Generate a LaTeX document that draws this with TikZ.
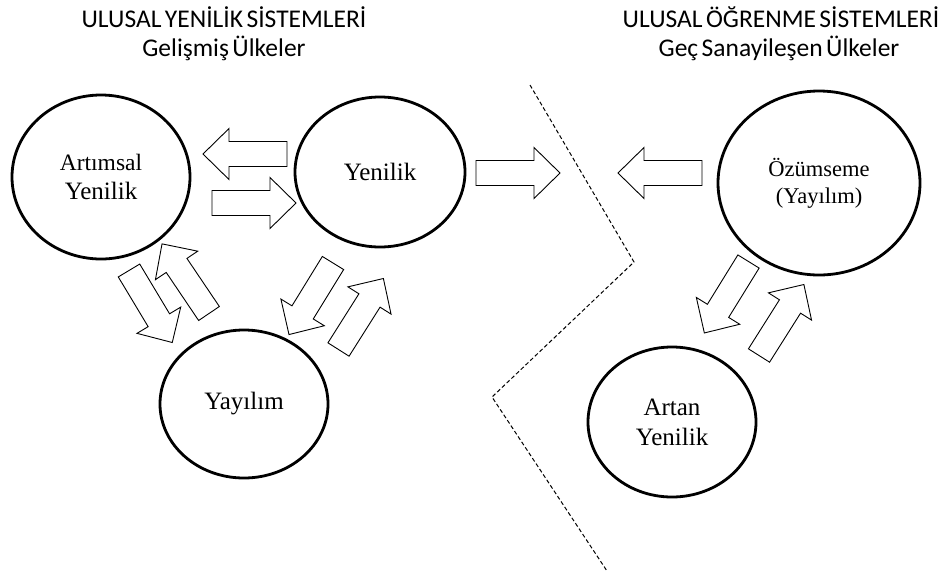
\documentclass[tikz,border=0pt]{standalone}
\usepackage{fontspec}
\setmainfont{Liberation Serif}
\newfontfamily\titlefont[WordSpace=0.6]{Carlito}
\usetikzlibrary{shapes.geometric}

% hollow block arrow: tail x, tail y, direction angle
\newcommand{\fatarrow}[3]{%
  \begin{scope}[shift={(#1,#2)}, rotate=#3]
    \draw[arrowbox] (0,-12.5) -- (58,-12.5) -- (58,-25.5) -- (84,0)
      -- (58,25.5) -- (58,12.5) -- (0,12.5) -- cycle;
  \end{scope}}

\begin{document}
\begin{tikzpicture}
  [x=1pt,y=-1pt,
   every node/.style={inner sep=0pt},
   bubble/.style={ellipse, draw, line width=2.8pt, align=center,
     font=\fontsize{25}{29}\selectfont},
   titletext/.style={anchor=base, font=\titlefont\fontsize{25.5}{30}\selectfont},
   arrowbox/.style={draw, line width=0.9pt, fill=white, line join=miter},
   divider/.style={draw, line width=1pt, dash pattern=on 4pt off 2.5pt}]
  \useasboundingbox (0,0) rectangle (945,571);

  % titles
  \node (t1a)[titletext] at (224,27) {ULUSAL YENİLİK SİSTEMLERİ};
  \node (t1b)[titletext] at (224,56) {Gelişmiş Ülkeler};
  \node (t2a)[titletext] at (781,27) {ULUSAL ÖĞRENME SİSTEMLERİ};
  \node (t2b)[titletext] at (779,56) {Geç Sanayileşen Ülkeler};

  % left side
  \node (art)[bubble, minimum width=178pt, minimum height=164pt] at (101,177)
    {{\fontsize{23.5}{29}\selectfont Artımsal}\\Yenilik};
  \node (yen)[bubble, minimum width=170pt, minimum height=150pt] at (380,172) {Yenilik};
  \node (yay)[bubble, minimum width=168pt, minimum height=148pt] at (244,404) {Yayılım};

  % right side
  \node (ozu)[bubble, minimum width=202pt, minimum height=184pt,
    font=\fontsize{22.5}{27}\selectfont] at (819,183) {Özümseme\\(Yayılım)};
  \node (artan)[bubble, minimum width=168pt, minimum height=150pt,
    font=\fontsize{25}{30}\selectfont] at (672,422) {Artan\\Yenilik};

  % dashed border
  \coordinate (d1) at (530,85);
  \coordinate (d2) at (634,262);
  \coordinate (d3) at (492,397);
  \coordinate (d4) at (607,571);
  \draw[divider] (d1) -- (d2) -- (d3) -- (d4);

  % block arrows
  \fatarrow{287}{154}{180}
  \fatarrow{212}{203}{0}
  \fatarrow{476}{173}{0}
  \fatarrow{702}{173}{180}
  \fatarrow{129}{270.5}{-59}
  \fatarrow{209}{313.5}{124}
  \fatarrow{333}{263}{-121.6}
  \fatarrow{338.5}{349.5}{57.7}
  \fatarrow{748.5}{261.5}{-121.7}
  \fatarrow{759}{355.5}{57.7}
\end{tikzpicture}
\end{document}
